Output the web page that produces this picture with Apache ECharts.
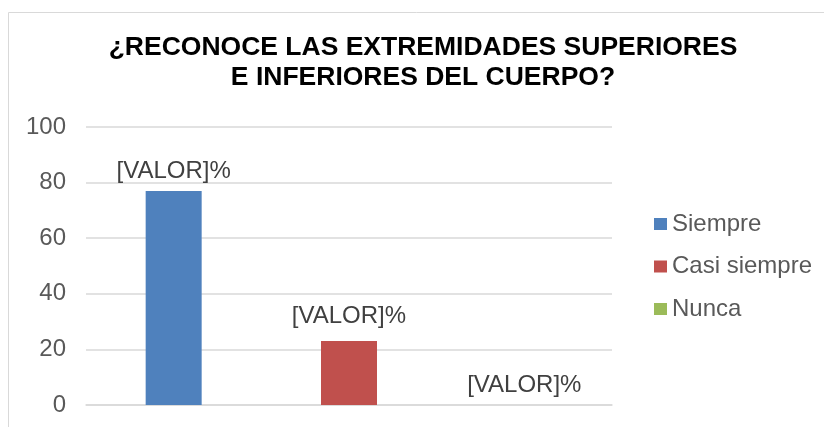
<!DOCTYPE html>
<html>
<head>
<meta charset="utf-8">
<script src="https://cdn.jsdelivr.net/npm/echarts@6/dist/echarts.min.js"></script>
<style>
  html, body { margin: 0; padding: 0; background: #fff; }
  #chart { width: 824px; height: 427px; }
</style>
</head>
<body>
<div id="chart"></div>
<script>
const categories = ['Siempre', 'Casi siempre', 'Nunca']
const values = [77, 23, 0]
const colors = ['#4f81bd', '#c0504d', '#9bbb59']
const yTicks = { min: 0, max: 100, interval: 20 }

const font = 'Liberation Sans, Arial, sans-serif'

// one series per answer, each sits in its own category slot
const series = categories.map((name, i) => ({
  name: name,
  type: 'bar',
  barWidth: 56,
  barGap: '-100%',
  itemStyle: { color: colors[i] },
  label: {
    show: true,
    position: 'top',
    distance: i === 1 ? 13 : 8,
    formatter: '[VALOR]%',
    fontFamily: font,
    fontSize: 24,
    color: '#404040'
  },
  data: categories.map((c, j) => (j === i ? values[i] : '-'))
}))

const chart = echarts.init(document.getElementById('chart'))
chart.setOption({
  animation: false,
  graphic: [{
    type: 'rect',
    shape: { x: 8.5, y: 12.5, width: 900, height: 500 },
    style: { fill: 'none', stroke: '#d9d9d9', lineWidth: 1 },
    silent: true
  }],
  title: {
    text: '¿RECONOCE LAS EXTREMIDADES SUPERIORES\nE INFERIORES DEL CUERPO?',
    left: 423,
    textAlign: 'center',
    top: 33,
    padding: 0,
    textStyle: {
      fontFamily: font,
      fontSize: 26.5,
      fontWeight: 'bold',
      lineHeight: 30,
      color: '#000'
    }
  },
  legend: {
    orient: 'vertical',
    left: 654,
    top: 212,
    padding: 0,
    itemWidth: 13,
    itemHeight: 12,
    itemGap: 18.5,
    icon: 'rect',
    textStyle: { fontFamily: font, fontSize: 24, lineHeight: 24, color: '#595959' },
    data: categories
  },
  grid: { left: 86, right: 212, top: 127, bottom: 22, containLabel: false },
  xAxis: {
    type: 'category',
    data: categories,
    axisLine: { show: true, lineStyle: { color: '#d9d9d9', width: 1.5 } },
    axisTick: { show: false },
    axisLabel: { show: false }
  },
  yAxis: {
    type: 'value',
    min: yTicks.min,
    max: yTicks.max,
    interval: yTicks.interval,
    axisLine: { show: false },
    axisTick: { show: false },
    splitLine: { lineStyle: { color: '#d9d9d9', width: 1.5 } },
    axisLabel: { fontFamily: font, fontSize: 24, color: '#595959', margin: 20 }
  },
  series: series
})
</script>
</body>
</html>
